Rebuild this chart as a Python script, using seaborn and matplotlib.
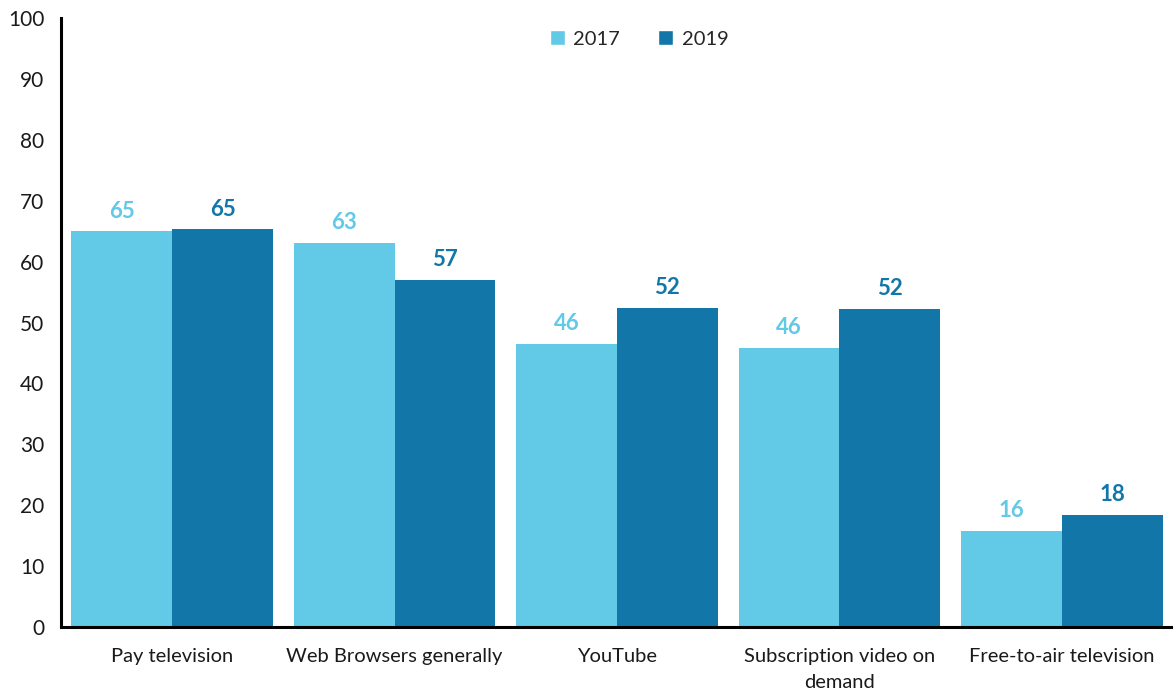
import matplotlib
matplotlib.use("Agg")
import matplotlib.pyplot as plt
import seaborn as sns
import pandas as pd
from matplotlib.patches import Patch

categories = ["Pay television", "Web Browsers generally", "YouTube",
              "Subscription video on\ndemand", "Free-to-air television"]
years = ["2017", "2019"]
values_2017 = [65.0, 63.1, 46.5, 45.8, 15.8]
values_2019 = [65.3, 57.0, 52.4, 52.3, 18.4]
y_ticks = [0, 10, 20, 30, 40, 50, 60, 70, 80, 90, 100]

colors = {"2017": "#62C9E6", "2019": "#1277A8"}

df = pd.DataFrame({
    "category": categories * 2,
    "year": [years[0]] * len(categories) + [years[1]] * len(categories),
    "value": values_2017 + values_2019,
})

sns.set_theme(style="white")
plt.rcParams["font.family"] = ["Lato", "DejaVu Sans"]

fig = plt.figure(figsize=(11.73, 6.96), dpi=100)
ax = fig.add_axes([0.052, 0.099, 0.948, 0.875])

sns.barplot(data=df, x="category", y="value", hue="year", order=categories,
            hue_order=years, palette=colors, width=0.907, gap=0,
            saturation=1, legend=False, ax=ax, linewidth=0)

for container, year in zip(ax.containers, years):
    for bar in container:
        h = bar.get_height()
        ax.annotate(f"{h:.0f}", (bar.get_x() + bar.get_width() / 2, h),
                    xytext=(0, 7), textcoords="offset points",
                    ha="center", va="bottom", fontsize=16, fontweight="bold",
                    color=colors[year])

ax.set_xlim(-0.5, 4.5)
ax.set_ylim(0, 100)
ax.set_yticks(y_ticks)
ax.set_xlabel("")
ax.set_ylabel("")
ax.tick_params(axis="y", length=0, pad=12, labelsize=15, labelcolor="#1a1a1a")
ax.tick_params(axis="x", length=0, pad=15, labelsize=14.5, labelcolor="#1a1a1a")
for lbl in ax.get_xticklabels():
    lbl.set_linespacing(1.65)

for side in ["top", "right"]:
    ax.spines[side].set_visible(False)
for side in ["left", "bottom"]:
    ax.spines[side].set_color("black")
    ax.spines[side].set_linewidth(2.2)

handles = [Patch(facecolor=colors[y], label=y) for y in years]
ax.legend(handles=handles, loc="upper center", bbox_to_anchor=(0.52, 1.01),
          ncol=2, frameon=False, fontsize=14.5, handlelength=0.75,
          handleheight=0.75, handletextpad=0.4, columnspacing=1.9)

fig.savefig("out.png", dpi=100)
